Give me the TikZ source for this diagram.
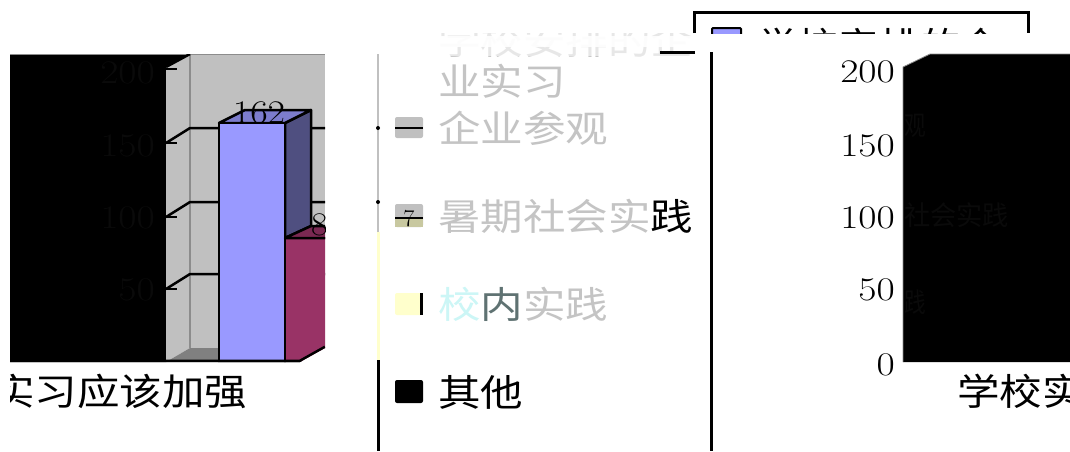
\documentclass[tikz,border=0pt]{standalone}
\usepackage{fontspec}
\newfontfamily\cjk{Noto Sans CJK SC}
\definecolor{wallg}{HTML}{C0C0C0}
\definecolor{edgeg}{HTML}{8C8C8C}
\definecolor{floorg}{HTML}{808080}
\definecolor{barA}{HTML}{9999FF}
\definecolor{barAtop}{HTML}{7C7CCC}
\definecolor{barAside}{HTML}{4F4F80}
\definecolor{barB}{HTML}{993366}
\definecolor{barBtop}{HTML}{7A2952}
\definecolor{lyellow}{HTML}{FFFFCC}
\definecolor{khaki}{HTML}{C8C8A0}
\definecolor{faintnum}{HTML}{0A0A0A}
\definecolor{lgtext}{HTML}{C4C4C4}
\definecolor{lcyan}{HTML}{CCF6F6}
\definecolor{slate}{HTML}{5F7272}
\definecolor{purp}{HTML}{9999FF}
\newcommand\sx[1]{\scalebox{1.15}[1]{#1}}
\newcommand\sd[1]{\scalebox{1.2}[1]{#1}}
\begin{document}
\begin{tikzpicture}[x=1pt,y=-1pt,
  cjkt/.style={font=\cjk\fontsize{37}{40}\selectfont, inner sep=0pt, anchor=west},
  smallcjk/.style={font=\cjk\fontsize{27}{30}\selectfont, inner sep=0pt, anchor=west, text=faintnum},
  numt/.style={font=\fontsize{33}{36}\selectfont, inner sep=0pt},
  gridl/.style={line width=2.5pt, black},
  barline/.style={line width=2.5pt, black, line join=round},
  vline/.style={line width=3pt}]
\useasboundingbox (0,0) rectangle (1070,451);
\fill[white] (0,0) rectangle (1070,451);

% ---------- left chart ----------
\begin{scope}
\clip (10,54) -- (325,54) -- (325,348) -- (300,362) -- (10,362) -- cycle;
\fill[black] (10,54) -- (190,54) -- (166,67) -- (166,362) -- (10,362) -- cycle;
\draw[edgeg, line width=1pt] (10,54) -- (190,54);
\fill[wallg] (190,54) rectangle (325,348);
\draw[edgeg, line width=1.5pt] (190,54) -- (325,54);
\fill[wallg] (166,67) -- (190,54) -- (190,348) -- (166,362) -- cycle;
\draw[edgeg, line width=2pt] (190,54) -- (190,348);
\fill[floorg] (166,362) -- (190,348) -- (325,348) -- (300,362) -- cycle;
% grid
\draw[gridl] (166,67) -- (190,54);
\draw[gridl] (166,143) -- (190,128) -- (325,128);
\draw[gridl] (166,217) -- (190,202) -- (325,202);
\draw[gridl] (166,289) -- (190,274) -- (325,274);
\foreach \yy in {69,143,217,289} \draw[gridl] (166,\yy) -- (177,\yy);
% axis labels (dark on black)
\node[numt, anchor=east, text=faintnum] (la200) at (155,73) {\sd{200}};
\node[numt, anchor=east, text=faintnum] (la150) at (155,146) {\sd{150}};
\node[numt, anchor=east, text=faintnum] (la100) at (155,218) {\sd{100}};
\node[numt, anchor=east, text=faintnum] (la50) at (155,290) {\sd{50}};
% bar 1
\filldraw[barline, fill=barAside] (285,123) -- (311,110) -- (311,226) -- (285,238) -- cycle;
\filldraw[barline, fill=barAtop] (219,123) -- (245,110) -- (311,110) -- (285,123) -- cycle;
\filldraw[barline, fill=barA] (219,123) rectangle (285,362);
% bar 2
\filldraw[barline, fill=barB] (285,238) rectangle (340,362);
\filldraw[barline, fill=barBtop] (285,238) -- (311,226) -- (345,226) -- (330,238) -- cycle;
\node[numt] (v162) at (259,113) {\scalebox{1.15}[1]{162}};
\node[numt, anchor=west] (v8) at (311,225) {\scalebox{1.1}[1]{8}};
\draw[line width=3pt] (10,361) -- (300,361) -- (325,347);
\end{scope}

% left category label
\begin{scope}
\clip (10,364) rectangle (370,451);
\node[cjkt] (cat1) at (-8,391) {\sx{实习应该加强}};
\end{scope}

% ---------- middle legend ----------
\draw[wallg, line width=2.5pt] (378,54) -- (378,232);
\draw[lyellow, line width=3pt] (378,232) -- (378,360);
\draw[black, vline] (378,360) -- (378,451);
\fill[black] (378,128) circle (2);
\fill[black] (378,202) circle (2);

\begin{scope}
\clip (380,33) rectangle (705,56);
\node[cjkt, text=lgtext] (leg1a) at (438,40) {\sx{学校安排的企}};
\fill[white, opacity=0.6] (380,33) rectangle (705,56);
\fill[white, opacity=0.9] (380,36) rectangle (705,47);
\end{scope}
\draw[line width=3pt] (660,52) -- (695,52);
\node[cjkt, text=lgtext] (leg1b) at (438,81) {\sx{业实习}};

\fill[wallg, rounded corners=2pt] (395,117) rectangle (423,138);
\draw[gridl] (395,128) -- (423,128);
\node[cjkt, text=lgtext] (leg2) at (438,128) {\sx{企业参观}};

\fill[wallg, rounded corners=2pt] (395,204) rectangle (423,227);
\fill[khaki] (395,217) rectangle (423,227);
\draw[gridl] (395,218) -- (423,218);
\node[numt, font=\fontsize{24}{26}\selectfont] (seven) at (409,219) {7};
\node[cjkt] (leg3) at (438,216) {\sx{\textcolor{lgtext}{暑期社会实}践}};

\fill[lyellow, rounded corners=2pt] (395,293) rectangle (423,315);
\draw[line width=3pt] (421.5,293) -- (421.5,315);
\node[cjkt] (leg4) at (438,304) {\sx{\textcolor{lcyan}{校}\textcolor{slate}{内}\textcolor{lgtext}{实践}}};

\fill[black, rounded corners=2pt] (395,380) rectangle (423,403);
\node[cjkt] (leg5) at (438,392) {\sx{其他}};

\draw[black, vline] (711,52) -- (711,451);

% ---------- top-right legend box ----------
\draw[black, vline] (694,33) -- (694,12) -- (1028,12) -- (1028,33);
\begin{scope}
\clip (700,14) rectangle (1025,33);
\filldraw[fill=purp, draw=black, line width=2pt, rounded corners=1pt] (712,28) rectangle (741,45);
\node[cjkt] (tr1) at (757,45) {\scalebox{1.1}[1]{学校安排的企}};
\end{scope}

% ---------- right chart ----------
\fill[black] (903,67) -- (930,54) -- (1070,54) -- (1070,362) -- (903,362) -- cycle;
\draw[edgeg, line width=0.8pt] (903,362) -- (903,67) -- (930,54) -- (1070,54);
\node[numt, anchor=east] (ra200) at (895,72) {\sd{200}};
\node[numt, anchor=east] (ra150) at (895,146) {\sd{150}};
\node[numt, anchor=east] (ra100) at (895,218) {\sd{100}};
\node[numt, anchor=east] (ra50) at (895,290) {\sd{50}};
\node[numt, anchor=east] (ra0) at (895,365) {\sd{0}};
\node[smallcjk] (f1) at (904,126) {\scalebox{0.8}[1]{观}};
\node[smallcjk] (f2) at (904,215) {\scalebox{0.97}[1]{社会实践}};
\node[smallcjk] (f3) at (904,302) {\scalebox{0.8}[1]{践}};
\node[cjkt] (cat2) at (957,391) {\sx{学校实}};
\end{tikzpicture}
\end{document}
